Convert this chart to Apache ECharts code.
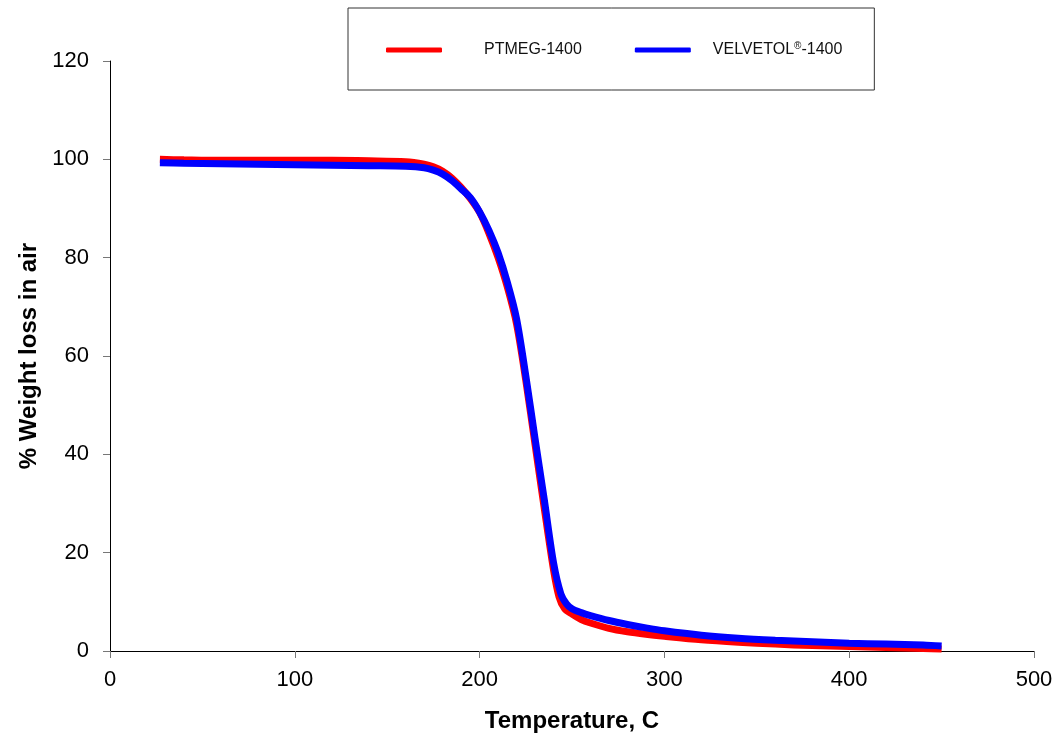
<!DOCTYPE html>
<html>
<head>
<meta charset="utf-8">
<script src="https://cdn.jsdelivr.net/npm/echarts@6/dist/echarts.min.js"></script>
<style>
  html, body { margin: 0; padding: 0; background: #fff; }
  #main { width: 1056px; height: 738px; }
</style>
</head>
<body>
<div id="main"></div>
<script>
// temperature (C) and % weight
const ptmegTemp = [27, 40, 60, 80, 100, 120, 140, 160, 170, 175, 180, 185, 190, 195, 200, 205, 210, 215, 220, 225, 230, 235, 240, 243, 246, 250, 255, 260, 270, 280, 290, 300, 320, 340, 360, 380, 400, 420, 440, 450]
const ptmegWeight = [100, 99.9, 99.8, 99.8, 99.8, 99.8, 99.7, 99.5, 99.0, 98.5, 97.6, 96.2, 94.3, 92.0, 89.2, 85.0, 80.0, 74.0, 66.5, 55.0, 42.0, 29.0, 16.5, 11.0, 8.6, 7.5, 6.4, 5.7, 4.6, 3.9, 3.4, 3.0, 2.3, 1.8, 1.4, 1.1, 0.9, 0.7, 0.5, 0.4]

const velvTemp = [27, 40, 60, 80, 100, 120, 140, 160, 170, 175, 180, 185, 190, 195, 200, 205, 210, 215, 220, 225, 230, 235, 240, 244, 247, 250, 255, 260, 270, 280, 290, 300, 320, 340, 360, 380, 400, 420, 440, 450]
const velvWeight = [99.3, 99.2, 99.1, 99.0, 98.9, 98.8, 98.7, 98.6, 98.3, 97.8, 97.0, 95.7, 94.0, 92.2, 89.3, 85.6, 81.0, 75.0, 67.6, 56.0, 43.2, 30.8, 18.0, 11.6, 9.6, 8.6, 7.8, 7.2, 6.2, 5.4, 4.7, 4.1, 3.2, 2.6, 2.2, 1.9, 1.6, 1.4, 1.2, 1.0]

const xTicks = [0, 500, 100]   // min, max, step
const yTicks = [0, 120, 20]

const font = 'Liberation Sans, Arial, sans-serif'

function pairs(xs, ys) {
    return xs.map((x, i) => [x, ys[i]])
}

const chart = echarts.init(document.getElementById('main'), null, { renderer: 'canvas' })

chart.setOption({
    animation: false,
    backgroundColor: '#fff',
    grid: {
        left: 110,
        right: 22,
        top: 61,
        bottom: 85
    },
    legend: {
        left: 348,
        top: 8,
        padding: [33, 32, 32, 38],
        borderColor: '#333',
        borderWidth: 1,
        itemWidth: 56,
        itemHeight: 5,
        itemGap: 53,
        data: [
            { name: 'PTMEG-1400', icon: 'roundRect', textStyle: { padding: [0, 0, 0, 37] } },
            { name: 'VELVETOL-1400', icon: 'roundRect', textStyle: { padding: [0, 0, 0, 17] } }
        ],
        formatter: function (name) {
            if (name === 'VELVETOL-1400') return '{a|VELVETOL}{s|®}{a|-1400}'
            return name
        },
        textStyle: {
            fontFamily: font,
            fontSize: 16,
            color: '#111',
            rich: {
                a: { fontFamily: font, fontSize: 16, color: '#111' },
                s: { fontFamily: font, fontSize: 10, color: '#111', verticalAlign: 'top', padding: [0, 0, 8, 0] }
            }
        }
    },
    xAxis: {
        type: 'value',
        min: xTicks[0],
        max: xTicks[1],
        interval: xTicks[2],
        name: 'Temperature, C',
        nameLocation: 'middle',
        nameGap: 58,
        nameTextStyle: { fontFamily: font, fontSize: 24, fontWeight: 'bold', color: '#000' },
        axisLine: { onZero: false, lineStyle: { color: '#000', width: 1 } },
        axisTick: { show: true, length: 7, lineStyle: { color: '#777' } },
        axisLabel: { fontFamily: font, fontSize: 22, color: '#000', margin: 18 },
        splitLine: { show: false }
    },
    yAxis: {
        type: 'value',
        min: yTicks[0],
        max: yTicks[1],
        interval: yTicks[2],
        name: '% Weight loss in air',
        nameLocation: 'middle',
        nameGap: 66,
        nameTextStyle: { fontFamily: font, fontSize: 24, fontWeight: 'bold', color: '#000' },
        axisLine: { show: true, lineStyle: { color: '#000', width: 1 } },
        axisTick: { show: true, length: 7, lineStyle: { color: '#777' } },
        axisLabel: { fontFamily: font, fontSize: 22, color: '#000', margin: 21 },
        splitLine: { show: false }
    },
    series: [
        {
            name: 'PTMEG-1400',
            type: 'line',
            data: pairs(ptmegTemp, ptmegWeight),
            smooth: 0.3,
            symbol: 'none',
            color: '#ff0000',
            lineStyle: { width: 7, color: '#ff0000' }
        },
        {
            name: 'VELVETOL-1400',
            type: 'line',
            data: pairs(velvTemp, velvWeight),
            smooth: 0.3,
            symbol: 'none',
            color: '#0000ff',
            lineStyle: { width: 7, color: '#0000ff' }
        }
    ]
})
</script>
</body>
</html>
